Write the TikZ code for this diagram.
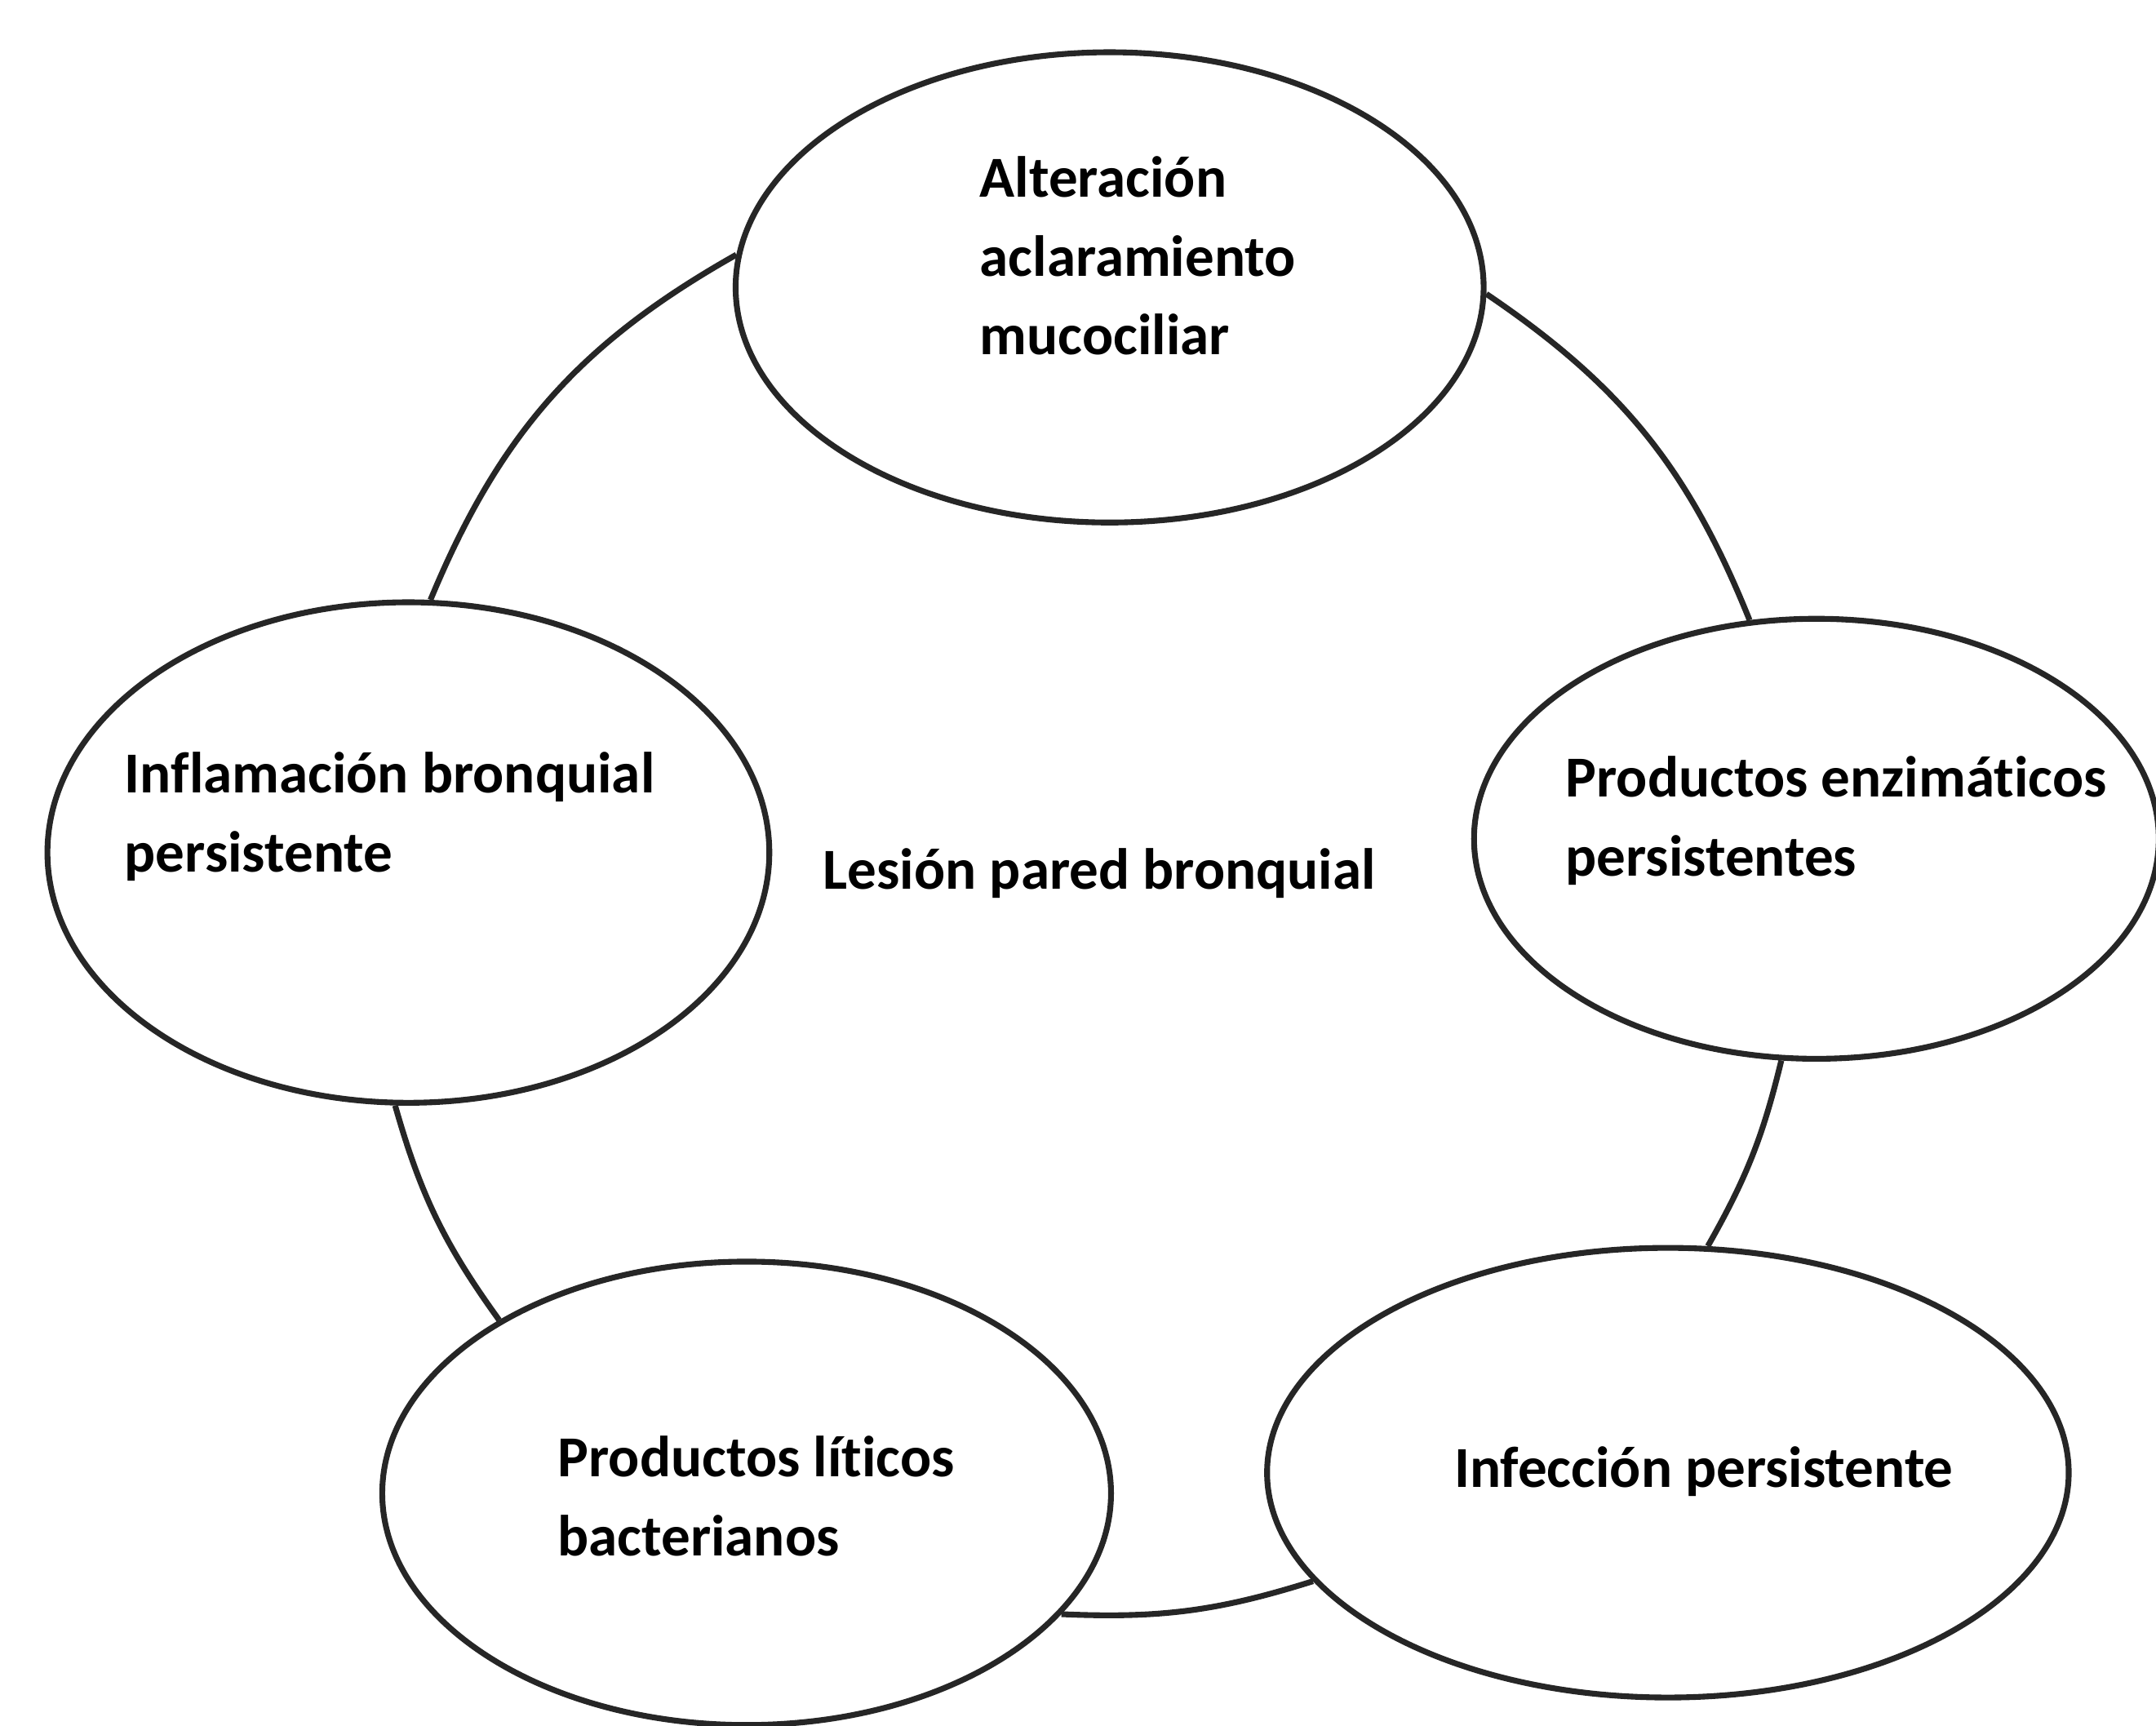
\documentclass[tikz,border=0pt]{standalone}
\usepackage{fontspec}
\setmainfont{Carlito}[Ligatures=NoCommon]
\usepackage{tikz}
\usetikzlibrary{shapes.geometric, positioning}
\tikzstyle{bubble} = [ellipse, draw=black!85, line width=1.2pt, inner sep=0pt]
\tikzstyle{txt} = [anchor=west, align=left, inner sep=0pt, font=\bfseries\fontsize{12}{16.3}\selectfont]
\tikzstyle{link} = [draw=black!85, line width=1.2pt]

\begin{document}
\begin{tikzpicture}
    \useasboundingbox (0,0) rectangle (15.68,12.55);
    % Nodes
    \node (alter) [bubble, minimum width=5.44cm, minimum height=3.42cm] at (8.07,10.46) {};
    \node (inflam) [bubble, minimum width=5.25cm, minimum height=3.64cm] at (2.97,6.35) {};
    \node (enzim) [bubble, minimum width=4.98cm, minimum height=3.20cm] at (13.21,6.45) {};
    \node (litic) [bubble, minimum width=5.30cm, minimum height=3.37cm] at (5.43,1.69) {};
    \node (infec) [bubble, minimum width=5.83cm, minimum height=3.27cm] at (12.13,1.84) {};

    % Texts
    \node (altertxt) [txt] at ([xshift=-0.95cm, yshift=0.23cm]alter.center) {Alteración\\aclaramiento\\mucociliar};
    \node (inflamtxt) [txt] at ([xshift=-2.07cm, yshift=0.26cm]inflam.center) {Inflamación bronquial\\persistente};
    \node (enzimtxt) [txt] at ([xshift=-1.83cm, yshift=0.13cm]enzim.center) {Productos enzimáticos\\persistentes};
    \node (litictxt) [txt] at ([xshift=-1.38cm, yshift=-0.02cm]litic.center) {Productos líticos\\bacterianos};
    \node (infectxt) [txt] at ([xshift=-1.56cm, yshift=0.01cm]infec.center) {Infección persistente};
    \node (lesion) [txt] at (5.98,6.20) {Lesión pared bronquial};

    % Connectors
    \draw [link] (inflam.85) to[bend left=19] (alter.175);
    \draw [link] (alter.-1) to[bend left=17] (enzim.107);
    \draw [link] (enzim.261) to[bend left=8] (infec.80);
    \draw [link] (infec.197) to[bend left=10] (litic.339);
    \draw [link] (litic.145) to[bend left=10] (inflam.267);
\end{tikzpicture}
\end{document}
